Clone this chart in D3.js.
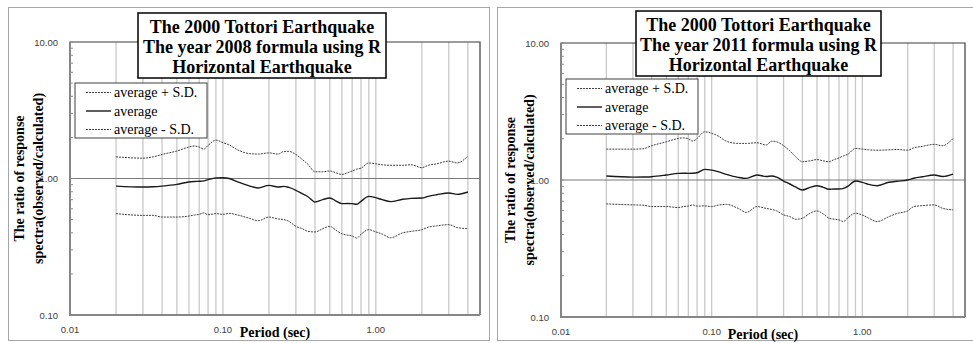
<!DOCTYPE html>
<html>
<head>
<meta charset="utf-8">
<script src="https://cdn.jsdelivr.net/npm/d3@7"></script>
<style>
  body { margin: 0; background: #fff; }
  svg { display: block; }
</style>
</head>
<body>
<svg id="chart" width="973" height="343"></svg>
<script>
// periods (sec) shared by every series
const periods = [0.02, 0.03, 0.035, 0.04, 0.05, 0.06, 0.065, 0.07, 0.075, 0.08, 0.09, 0.1, 0.11, 0.125, 0.15, 0.17,
  0.2, 0.23, 0.25, 0.27, 0.3, 0.33, 0.36, 0.4, 0.45, 0.5, 0.55, 0.6, 0.65, 0.7, 0.75, 0.8, 0.9, 1.0, 1.1, 1.25,
  1.5, 1.7, 2.0, 2.2, 2.5, 3.0, 3.4, 4.0];

// year 2008 formula
const plus2008 = [1.44, 1.41, 1.44, 1.50, 1.59, 1.70, 1.73, 1.70, 1.64, 1.75, 1.91, 1.83, 1.76, 1.62, 1.52, 1.51,
  1.54, 1.51, 1.58, 1.58, 1.50, 1.38, 1.27, 1.12, 1.12, 1.135, 1.10, 1.07, 1.10, 1.135, 1.17, 1.19, 1.30, 1.28, 1.26, 1.25,
  1.25, 1.26, 1.20, 1.25, 1.28, 1.34, 1.30, 1.46];
const avg2008 = [0.88, 0.866, 0.87, 0.88, 0.906, 0.943, 0.95, 0.954, 0.96, 0.98, 1.01, 1.014, 1.0, 0.945, 0.88, 0.852,
  0.89, 0.866, 0.876, 0.86, 0.82, 0.774, 0.735, 0.673, 0.70, 0.72, 0.684, 0.654, 0.656, 0.654, 0.647, 0.68, 0.74, 0.724, 0.70, 0.677,
  0.704, 0.715, 0.72, 0.74, 0.76, 0.783, 0.765, 0.796];
const minus2008 = [0.553, 0.537, 0.537, 0.522, 0.522, 0.531, 0.54, 0.546, 0.56, 0.543, 0.553, 0.546, 0.555, 0.54, 0.51, 0.49,
  0.522, 0.505, 0.50, 0.486, 0.446, 0.429, 0.41, 0.406, 0.429, 0.446, 0.417, 0.394, 0.385, 0.379, 0.366, 0.39, 0.422, 0.406, 0.392, 0.368,
  0.40, 0.41, 0.422, 0.44, 0.45, 0.459, 0.437, 0.429];

// year 2011 formula
const plus2011 = [1.68, 1.68, 1.69, 1.78, 1.90, 2.01, 2.03, 2.0, 1.92, 2.01, 2.25, 2.19, 2.10, 1.92, 1.85, 1.85,
  1.87, 1.80, 1.92, 1.90, 1.78, 1.63, 1.48, 1.36, 1.38, 1.41, 1.38, 1.36, 1.41, 1.45, 1.50, 1.54, 1.70, 1.68, 1.66, 1.65,
  1.66, 1.67, 1.65, 1.72, 1.76, 1.82, 1.78, 2.01];
const avg2011 = [1.069, 1.05, 1.052, 1.057, 1.087, 1.118, 1.12, 1.118, 1.12, 1.13, 1.196, 1.18, 1.15, 1.10, 1.046, 1.028,
  1.087, 1.06, 1.07, 1.05, 0.983, 0.935, 0.89, 0.846, 0.884, 0.909, 0.884, 0.855, 0.86, 0.86, 0.868, 0.90, 0.983, 0.962, 0.93, 0.909,
  0.962, 0.98, 1.0, 1.03, 1.055, 1.087, 1.06, 1.105];
const minus2011 = [0.669, 0.658, 0.655, 0.64, 0.64, 0.629, 0.64, 0.645, 0.658, 0.645, 0.647, 0.64, 0.655, 0.664, 0.62, 0.58,
  0.64, 0.62, 0.61, 0.595, 0.556, 0.541, 0.517, 0.526, 0.572, 0.595, 0.565, 0.526, 0.518, 0.511, 0.497, 0.53, 0.572, 0.555, 0.527, 0.497,
  0.54, 0.57, 0.595, 0.64, 0.65, 0.658, 0.622, 0.605];

const yTickLabels = [0.1, 1, 10];
const xTickLabels = [0.01, 0.1, 1];
const legendLabels = ["average + S.D.", "average", "average - S.D."];
const title2008 = ["The 2000 Tottori Earthquake", "The year 2008 formula using R", "Horizontal Earthquake"];
const title2011 = ["The 2000 Tottori Earthquake", "The year 2011 formula using R", "Horizontal Earthquake"];
const yTitle = ["The ratio of response", "spectra(observed/calculated)"];
const xTitle = "Period (sec)";

const xMax = 4.8;
const fmt = d3.format(".2f");
const serif = "'Liberation Serif', 'Times New Roman', serif";
const sans = "'Liberation Sans', Arial, sans-serif";

const svg = d3.select("#chart");

function drawPanel(p) {
  const g = svg.append("g");

  // outer frame of the panel
  g.append("rect")
    .attr("x", p.frame[0] + 0.5).attr("y", p.frame[1] + 0.5)
    .attr("width", p.frame[2]).attr("height", p.frame[3])
    .attr("fill", "none").attr("stroke", "#a6a6a6").attr("stroke-width", 1);

  const x = d3.scaleLog().domain([0.01, xMax]).range([p.left, p.right]);
  const y = d3.scaleLog().domain([0.1, 10]).range([p.bottom, p.top]);

  // vertical minor gridlines
  g.selectAll(".vgrid")
    .data(x.ticks().filter(d => d > 0.011))
    .enter().append("line")
    .attr("x1", d => x(d)).attr("x2", d => x(d))
    .attr("y1", p.top).attr("y2", p.bottom)
    .attr("stroke", "#c8c8c8").attr("stroke-width", 1.3);

  // plot border (top / right)
  g.append("path")
    .attr("d", `M${p.left},${p.top}H${p.right}V${p.bottom}`)
    .attr("fill", "none").attr("stroke", "#3a3a3a").attr("stroke-width", 1.2);

  // horizontal line at ratio 1
  g.append("line")
    .attr("x1", p.left).attr("x2", p.right)
    .attr("y1", y(1)).attr("y2", y(1))
    .attr("stroke", "#7a7a7a").attr("stroke-width", 1.2);

  // y minor ticks
  g.selectAll(".ytick")
    .data(y.ticks())
    .enter().append("line")
    .attr("x1", p.left - 1).attr("x2", p.left + 3)
    .attr("y1", d => y(d)).attr("y2", d => y(d))
    .attr("stroke", "#8c8c8c").attr("stroke-width", 1);

  // left & bottom axis lines
  g.append("path")
    .attr("d", `M${p.left},${p.top}V${p.bottom}H${p.right}`)
    .attr("fill", "none").attr("stroke", "#868686").attr("stroke-width", 2);

  // tick labels
  g.selectAll(".ylab")
    .data(yTickLabels)
    .enter().append("text")
    .attr("x", p.left - 12).attr("y", d => y(d) + 3.5)
    .attr("text-anchor", "end")
    .attr("font-family", sans).attr("font-size", 9.5).attr("fill", "#404040")
    .text(d => fmt(d));

  g.selectAll(".xlab")
    .data(xTickLabels)
    .enter().append("text")
    .attr("x", d => x(d)).attr("y", p.bottom + 18)
    .attr("text-anchor", "middle")
    .attr("font-family", sans).attr("font-size", 9.5).attr("fill", "#404040")
    .text(d => fmt(d));

  // series
  const line = d3.line()
    .x((d, i) => x(periods[i]))
    .y(d => y(d))
    .curve(d3.curveMonotoneX);

  const series = [
    {values: p.plus, dash: "2,1", width: 1, color: "#404040"},
    {values: p.avg, dash: null, width: 1.4, color: "#1a1a1a"},
    {values: p.minus, dash: "2,1", width: 1, color: "#404040"}
  ];
  series.forEach(s => {
    g.append("path")
      .datum(s.values)
      .attr("d", line)
      .attr("fill", "none")
      .attr("stroke", s.color)
      .attr("stroke-width", s.width)
      .attr("stroke-dasharray", s.dash);
  });

  // title box
  g.append("rect")
    .attr("x", p.titleBox[0]).attr("y", p.titleBox[1])
    .attr("width", p.titleBox[2]).attr("height", p.titleBox[3])
    .attr("fill", "#fff").attr("stroke", "#000").attr("stroke-width", 1.5);
  g.selectAll(".title")
    .data(p.title)
    .enter().append("text")
    .attr("x", p.titleBox[0] + p.titleBox[2] / 2)
    .attr("y", (d, i) => p.titleBox[1] + 20 + i * 20)
    .attr("text-anchor", "middle")
    .attr("font-family", serif).attr("font-weight", "bold").attr("font-size", 18)
    .text(d => d);

  // legend
  const lg = g.append("g").attr("transform", `translate(${p.legend[0]},${p.legend[1]})`);
  lg.append("rect")
    .attr("width", 132).attr("height", 55)
    .attr("fill", "#fff").attr("stroke", "#404040").attr("stroke-width", 1);
  const items = lg.selectAll(".item")
    .data(legendLabels)
    .enter().append("g")
    .attr("transform", (d, i) => `translate(0,${9.5 + i * 18.5})`);
  items.append("line")
    .attr("x1", 11).attr("x2", 36)
    .attr("stroke", (d, i) => series[i].color)
    .attr("stroke-width", (d, i) => series[i].width)
    .attr("stroke-dasharray", (d, i) => series[i].dash);
  items.append("text")
    .attr("x", 39).attr("y", 4.5)
    .attr("font-family", serif).attr("font-size", 14)
    .text(d => d);

  // axis titles
  const cy = (p.top + p.bottom) / 2;
  g.selectAll(".ytitle")
    .data(yTitle)
    .enter().append("text")
    .attr("transform", (d, i) => `translate(${p.left - 46 + i * 19},${cy}) rotate(-90)`)
    .attr("text-anchor", "middle")
    .attr("font-family", serif).attr("font-weight", "bold").attr("font-size", 14)
    .text(d => d);

  g.append("text")
    .attr("x", (p.left + p.right) / 2).attr("y", p.bottom + 22)
    .attr("text-anchor", "middle")
    .attr("font-family", serif).attr("font-weight", "bold").attr("font-size", 14)
    .text(xTitle);
}

drawPanel({
  frame: [8, 7, 481, 333],
  left: 70, right: 480, top: 42, bottom: 315,
  plus: plus2008, avg: avg2008, minus: minus2008,
  title: title2008, titleBox: [138, 13, 248, 65],
  legend: [75, 83]
});

drawPanel({
  frame: [497, 7, 490, 333],
  left: 561, right: 965, top: 43, bottom: 317,
  plus: plus2011, avg: avg2011, minus: minus2011,
  title: title2011, titleBox: [636, 11, 245, 65],
  legend: [566, 79]
});
</script>
</body>
</html>
